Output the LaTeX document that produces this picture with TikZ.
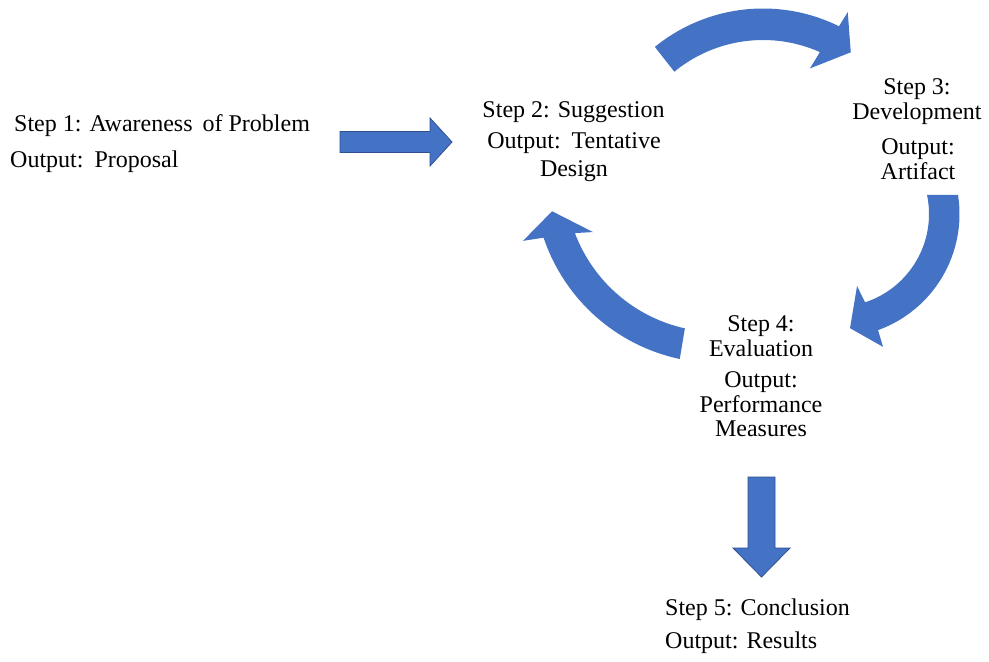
\documentclass[tikz,border=0pt]{standalone}
\usepackage{fontspec}
\setmainfont{Liberation Serif}
\usetikzlibrary{calc}
\definecolor{arrowblue}{HTML}{4472C4}
\definecolor{arrowedge}{HTML}{2F528F}
\begin{document}
\begin{tikzpicture}[x=1pt,y=1pt,
  lbl/.style={inner sep=0pt, font=\fontsize{24}{24.5}\selectfont},
  stack/.style={lbl, align=center, anchor=north},
  blockarrow/.style={fill=arrowblue, draw=arrowedge, line width=0.8pt, line join=miter},
  bendarrow/.style={fill=arrowblue}]
\useasboundingbox (0,0) rectangle (989,-662);
\fill[white] (0,0) rectangle (989,-662);

% step labels
\node[lbl, anchor=base west] (s1) at (14,-131) {Step 1: Awareness\hspace{4pt} of Problem};
\node[lbl, anchor=base west] (o1) at (10,-167) {Output:\hspace{3pt} Proposal};
\node[lbl, anchor=base] (s2) at (573.5,-117) {Step 2: Suggestion};
\node[stack] (o2) at (574,-132.5) {Output:\hspace{3pt} Tentative\\[3pt]Design};
\node[stack] (s3) at (917,-78.5) {Step 3:\\Development};
\node[stack] (o3) at (918,-138.5) {Output:\\Artifact};
\node[stack] (s4) at (761,-315.5) {Step 4:\\Evaluation};
\node[stack] (o4) at (761,-371.5) {Output:\\Performance\\Measures};
\node[lbl, anchor=base west] (s5) at (665,-615) {Step 5: Conclusion};
\node[lbl, anchor=base west] (o5) at (665,-648) {Output: Results};

% straight block arrows
\draw[blockarrow] (340,-131.5) -- (430,-131.5) -- (430,-118) -- (452,-142)
  -- (430,-166) -- (430,-152.5) -- (340,-152.5) -- cycle;
\draw[blockarrow] (748,-477) -- (775,-477) -- (775,-548) -- (790,-548)
  -- (761.5,-577) -- (733,-548) -- (748,-548) -- cycle;

% curved arrows of the cycle
\coordinate (ctop) at (763,-180);
\coordinate (cright) at (836,-214);
\coordinate (cleft) at (718,-179);

\fill[bendarrow] ($(ctop)+(129.1:171.5pt)$)
  arc[start angle=129.1, end angle=63.7, radius=171.5pt]
  -- ($(ctop)+(63.2:188pt)$) -- ($(ctop)+(55.5:155pt)$)
  -- ($(ctop)+(67.2:121pt)$) -- ($(ctop)+(66:140pt)$)
  arc[start angle=66, end angle=129.3, radius=140pt] -- cycle;

\fill[bendarrow] ($(cright)+(8.9:123.5pt)$)
  arc[start angle=8.9, end angle=-70.1, radius=123.5pt]
  -- ($(cright)+(-70.5:141pt)$) -- ($(cright)+(-83:115pt)$)
  -- ($(cright)+(-73.7:75pt)$) -- ($(cright)+(-71.8:93pt)$)
  arc[start angle=-71.8, end angle=11.8, radius=93pt] -- cycle;

\fill[bendarrow] ($(cleft)+(258:184pt)$)
  arc[start angle=258, end angle=198.6, radius=184pt]
  -- ($(cleft)+(197.6:204.6pt)$) -- ($(cleft)+(191:169pt)$)
  -- ($(cleft)+(203:135.8pt)$) -- ($(cleft)+(200.7:153pt)$)
  arc[start angle=200.7, end angle=257.5, radius=153pt] -- cycle;
\end{tikzpicture}
\end{document}
